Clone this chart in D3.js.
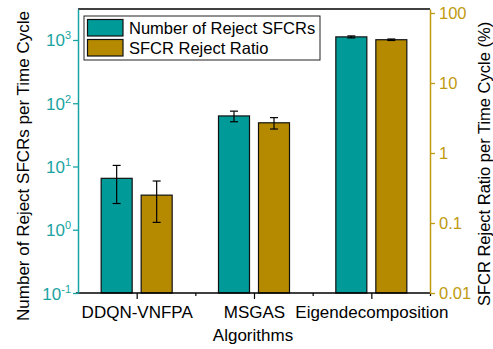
<!DOCTYPE html>
<html><head><meta charset="utf-8">
<script src="https://cdn.jsdelivr.net/npm/d3@7"></script>
<style>body{margin:0;background:#fff}svg{display:block;font-family:Arial,"Liberation Sans",sans-serif}</style>
</head><body>
<script>
const categories = ["DDQN-VNFPA", "MSGAS", "Eigendecomposition"];
const rejectNum = [6.5, 63, 1120];
const rejectNumErr = [3.9, 12, 40];
const rejectRatio = [0.25, 2.7, 41.5];
const rejectRatioErr = [0.148, 0.5, 1.0];
const leftTicks = [0.1, 1, 10, 100, 1000];
const leftTickExp = ["-1", "0", "1", "2", "3"];
const rightTicks = [0.01, 0.1, 1, 10, 100];
const rightTickLabels = ["0.01", "0.1", "1", "10", "100"];
const seriesNames = ["Number of Reject SFCRs", "SFCR Reject Ratio"];

const W = 493, H = 349;
const teal = "#009a98", gold = "#b58a00", tealAxis = "#1aa3a3", goldAxis = "#c09a10";
const m = {l: 78, r: 430, t: 9, b: 293};

const svg = d3.select("body").append("svg").attr("width", W).attr("height", H);

const x = d3.scaleLinear().domain([0.5, 3.5]).range([m.l, m.r]);
const yL = d3.scaleLog().domain([0.1, Math.pow(10, 3.49)]).range([m.b, m.t]);
const yR = d3.scaleLog().domain([0.01, Math.pow(10, 2.057)]).range([m.b, m.t]);

const bw = 31, off = 20;

// bars
const g = svg.append("g");
categories.forEach((c, i) => {
  const cx = x(i + 1);
  g.append("rect").attr("x", cx - off - bw/2).attr("y", yL(rejectNum[i]))
    .attr("width", bw).attr("height", m.b - yL(rejectNum[i]))
    .attr("fill", teal).attr("stroke", "#111").attr("stroke-width", 1.2);
  g.append("rect").attr("x", cx + off - bw/2).attr("y", yR(rejectRatio[i]))
    .attr("width", bw).attr("height", m.b - yR(rejectRatio[i]))
    .attr("fill", gold).attr("stroke", "#111").attr("stroke-width", 1.2);
  // error bars
  const eb = (px, y1, y2) => {
    g.append("line").attr("x1", px).attr("x2", px).attr("y1", y1).attr("y2", y2).attr("stroke", "#000").attr("stroke-width", 1.2);
    [y1, y2].forEach(yy => g.append("line").attr("x1", px - 4).attr("x2", px + 4).attr("y1", yy).attr("y2", yy).attr("stroke", "#000").attr("stroke-width", 1.2));
  };
  eb(cx - off, yL(rejectNum[i] + rejectNumErr[i]), yL(rejectNum[i] - rejectNumErr[i]));
  eb(cx + off, yR(rejectRatio[i] + rejectRatioErr[i]), yR(rejectRatio[i] - rejectRatioErr[i]));
});

// top frame
svg.append("line").attr("x1", m.l).attr("x2", m.r).attr("y1", m.t).attr("y2", m.t).attr("stroke", "#000").attr("stroke-width", 1.3);

// bottom axis
const xb = svg.append("g").attr("transform", `translate(0,${m.b})`)
  .call(d3.axisBottom(x).tickValues([1, 2, 3]).tickSize(6).tickSizeOuter(0).tickFormat((d) => categories[d - 1]));
xb.select(".domain").attr("stroke", "#000").attr("stroke-width", 1.3).attr("d", `M${m.l - 2},0H${m.r}`);
xb.selectAll(".tick line").attr("stroke", "#000").attr("stroke-width", 1.2);
xb.selectAll(".tick text").attr("font-size", 17).attr("fill", "#000").attr("dy", "0.95em");
svg.append("g").attr("transform", `translate(0,${m.b})`)
  .call(d3.axisBottom(x).tickValues([1.5, 2.5, 3.5]).tickSize(3).tickFormat(""))
  .call(s => { s.select(".domain").remove(); s.selectAll(".tick line").attr("stroke", "#000").attr("stroke-width", 1.2); });

// left axis
const la = svg.append("g").attr("transform", `translate(${m.l},0)`)
  .call(d3.axisLeft(yL).tickValues(leftTicks).tickSize(5).tickSizeOuter(0).tickFormat(""));
la.select(".domain").attr("stroke", tealAxis).attr("stroke-width", 1.5);
la.selectAll(".tick line").attr("stroke", tealAxis).attr("stroke-width", 1.3);
la.selectAll(".tick").each(function(d, i) {
  const t = d3.select(this).append("text").attr("x", -7).attr("y", 6).attr("text-anchor", "end")
    .attr("fill", tealAxis).attr("font-size", 17);
  t.append("tspan").text("10");
  t.append("tspan").attr("font-size", 11).attr("dy", -7).text(leftTickExp[i]);
});

// right axis
const ra = svg.append("g").attr("transform", `translate(${m.r},0)`)
  .call(d3.axisRight(yR).tickValues(rightTicks).tickSize(5).tickSizeOuter(0).tickFormat((d, i) => rightTickLabels[i]));
ra.select(".domain").attr("stroke", goldAxis).attr("stroke-width", 1.5);
ra.selectAll(".tick line").attr("stroke", goldAxis).attr("stroke-width", 1.3);
ra.selectAll(".tick text").attr("fill", goldAxis).attr("font-size", 16.5).attr("x", 9);

// axis titles
svg.append("text").attr("transform", "translate(29,166) rotate(-90)").attr("text-anchor", "middle")
  .attr("font-size", 17).attr("fill", "#000").text("Number of Reject SFCRs per Time Cycle");
svg.append("text").attr("transform", "translate(490,164) rotate(-90)").attr("text-anchor", "middle")
  .attr("font-size", 16.5).attr("fill", "#000").text("SFCR Reject Ratio per Time Cycle (%)");
svg.append("text").attr("x", 253).attr("y", 341).attr("text-anchor", "middle")
  .attr("font-size", 17).attr("fill", "#000").text("Algorithms");

// legend
const lg = svg.append("g");
lg.append("rect").attr("x", 84).attr("y", 16).attr("width", 236).attr("height", 44)
  .attr("fill", "#fff").attr("stroke", "#222").attr("stroke-width", 1);
[teal, gold].forEach((col, i) => {
  lg.append("rect").attr("x", 87.5).attr("y", 19.5 + i * 20).attr("width", 35.5).attr("height", 16.5)
    .attr("fill", col).attr("stroke", "#111").attr("stroke-width", 1.2);
  lg.append("text").attr("x", 129).attr("y", 33.5 + i * 20).attr("font-size", 16.5).attr("fill", "#000").text(seriesNames[i]);
});
</script>
</body></html>
